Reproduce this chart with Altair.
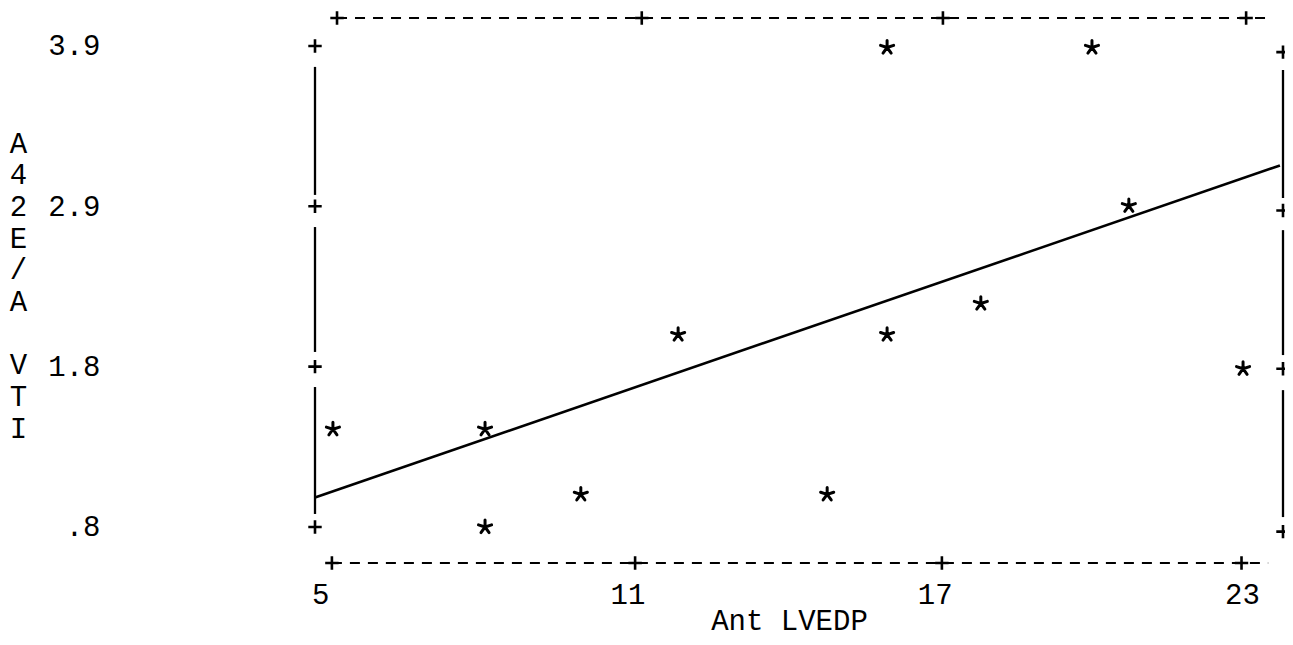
import altair as alt
import pandas as pd

# ---- data ----
lvedp = [5.25, 8.22, 8.22, 10.09, 11.99, 14.9, 16.07, 16.07, 17.9, 20.07, 20.79, 23.02]
ratio = [1.43, 1.43, 0.80, 1.01, 2.04, 1.01, 2.04, 3.89, 2.24, 3.89, 2.87, 1.82]

fit_x = [4.9, 23.74]
fit_y = [0.99, 3.13]

x_ticks = [5, 11, 17, 23]
y_ticks = [0.8, 1.8333, 2.8667, 3.9]

x_domain = [4.9, 23.8]
y_domain = [0.568, 4.093]

# frame pieces (printer-style box)
left_seg_top = [3.765, 2.733, 1.702]
left_seg_bot = [2.94, 1.928, 0.884]
right_seg_top = [3.745, 2.713, 1.682]
right_seg_bot = [2.92, 1.908, 0.864]
right_plus_y = [3.86, 2.84, 1.82, 0.77]
top_plus_x = [5.33, 11.28, 17.16, 23.08]
bottom_plus_x = [5.23, 11.15, 17.14, 22.99]
top_line_y = 4.08
top_line_x = [5.33, 23.55]
bottom_line_x = [5.23, 23.51]

y_title = ["A", "4", "2", "E", "/", "A", "\u200b", "V", "T", "I"]

FONT = "Liberation Mono"
FS = 29
STAR = ("M0,0L0,-1M0,0L0.951,-0.309M0,0L0.588,0.809"
        "M0,0L-0.588,0.809M0,0L-0.951,-0.309")
PLUS = "M-1,0L1,0M0,-1L0,1"

xs = alt.Scale(domain=x_domain, nice=False, zero=False)
ys = alt.Scale(domain=y_domain, nice=False, zero=False)

x_axis = alt.Axis(values=x_ticks, format="d", labelFont=FONT, labelFontSize=FS,
                  labelColor="black", labelPadding=17, ticks=False, domain=False,
                  grid=False, labelFlush=False, labelOverlap=False,
                  title="Ant LVEDP", titleFont=FONT, titleFontSize=FS,
                  titleFontWeight="normal", titleColor="black", titleX=474,
                  titleY=66, titleBaseline="alphabetic", titleAlign="center")
y_axis = alt.Axis(values=y_ticks,
                  labelExpr="replace(format(datum.value, '.1f'), '0.', '.')",
                  labelFont=FONT, labelFontSize=FS, labelColor="black",
                  labelPadding=215, ticks=False, domain=False, grid=False,
                  labelFlush=False, labelOverlap=False,
                  title=y_title, titleFont=FONT, titleFontSize=FS,
                  titleFontWeight="normal", titleColor="black", titleAngle=0,
                  titleX=-297, titleY=136, titleAlign="center",
                  titleBaseline="alphabetic", titleLineHeight=31.7)


def X(field="x"):
    return alt.X(f"{field}:Q", scale=xs, axis=x_axis)


def Y(field="y"):
    return alt.Y(f"{field}:Q", scale=ys, axis=y_axis)


pts = pd.DataFrame({"x": lvedp, "y": ratio})
stars = alt.Chart(pts).mark_point(
    shape=STAR, size=190, filled=False, stroke="black", strokeWidth=3,
    opacity=1, strokeCap="round"
).encode(x=X(), y=Y())

fit = alt.Chart(pd.DataFrame({"x": fit_x, "y": fit_y})).mark_line(
    color="black", strokeWidth=2.6
).encode(x=X(), y=Y())

vseg = pd.DataFrame({
    "x": [x_domain[0]] * 3 + [x_domain[1]] * 3,
    "y": left_seg_top + right_seg_top,
    "y2": left_seg_bot + right_seg_bot,
})
vlines = alt.Chart(vseg).mark_rule(color="black", strokeWidth=2.3).encode(
    x=X(), y=Y(), y2="y2:Q",
)

hseg = pd.DataFrame({
    "x": [top_line_x[0], bottom_line_x[0]],
    "x2": [top_line_x[1], bottom_line_x[1]],
    "y": [top_line_y, y_domain[0]],
})
hlines = alt.Chart(hseg).mark_rule(
    color="black", strokeWidth=2, strokeDash=[10, 8]
).encode(x=X(), x2="x2:Q", y=Y())

plus_df = pd.DataFrame({
    "x": [x_domain[0]] * 4 + [x_domain[1]] * 4 + top_plus_x + bottom_plus_x,
    "y": y_ticks + right_plus_y + [top_line_y] * 4 + [y_domain[0]] * 4,
})
plus = alt.Chart(plus_df).mark_point(
    shape=PLUS, size=180, filled=False, stroke="black", strokeWidth=2.6, opacity=1
).encode(x=X(), y=Y())

chart = alt.layer(stars, hlines, vlines, fit, plus).properties(
    width=968, height=547,
    autosize=alt.AutoSizeParams(type="none"),
    padding={"left": 307, "top": 8, "right": 2, "bottom": 74},
    background="white",
).configure_view(strokeWidth=0)

chart.save("out.html", embed_options={"renderer": "svg", "actions": False})
